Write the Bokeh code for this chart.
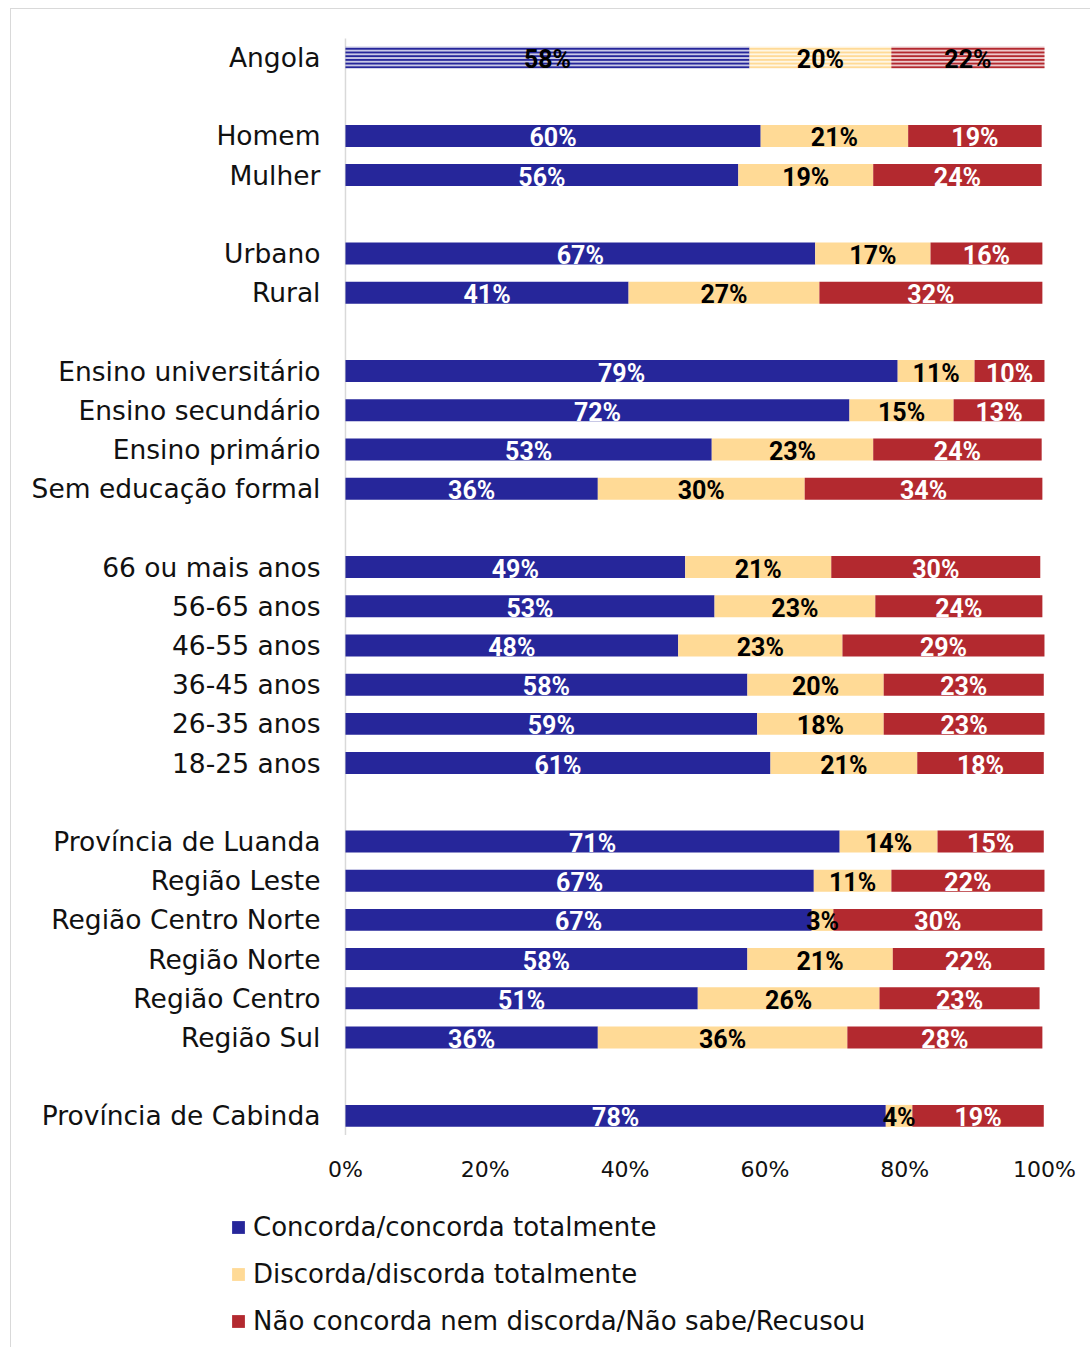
import numpy as np
from bokeh.plotting import figure
from bokeh.models import ColumnDataSource, Range1d, Legend, LegendItem
from bokeh.core.properties import value
from bokeh.embed import file_html
from bokeh.resources import INLINE

# ---------------- data ----------------
categories = ["Angola", "Homem", "Mulher", "Urbano", "Rural",
              "Ensino universitário", "Ensino secundário", "Ensino primário", "Sem educação formal",
              "66 ou mais anos", "56-65 anos", "46-55 anos", "36-45 anos", "26-35 anos", "18-25 anos",
              "Província de Luanda", "Região Leste", "Região Centro Norte", "Região Norte",
              "Região Centro", "Região Sul", "Província de Cabinda"]
group_sizes = [1, 2, 2, 4, 6, 6, 1]

concorda = [57.8, 59.4, 56.2, 67.2, 40.5, 79.0, 72.1, 52.4, 36.1, 48.6, 52.8, 47.6, 57.5, 58.9,
            60.8, 70.7, 67.0, 66.7, 57.5, 50.4, 36.1, 77.3]
discorda = [20.3, 21.1, 19.3, 16.5, 27.3, 11.0, 14.9, 23.1, 29.6, 20.9, 23.0, 23.5, 19.5, 18.1,
            21.0, 14.0, 11.1, 3.1, 20.8, 26.0, 35.7, 3.8]
nao_sabe = [21.9, 19.1, 24.1, 16.0, 31.9, 10.0, 13.0, 24.1, 34.0, 29.9, 23.9, 28.9, 22.9, 23.0,
            18.1, 15.2, 21.9, 29.9, 21.7, 22.9, 27.9, 18.8]

lab_concorda = ["58%", "60%", "56%", "67%", "41%", "79%", "72%", "53%", "36%", "49%", "53%", "48%",
                "58%", "59%", "61%", "71%", "67%", "67%", "58%", "51%", "36%", "78%"]
lab_discorda = ["20%", "21%", "19%", "17%", "27%", "11%", "15%", "23%", "30%", "21%", "23%", "23%",
                "20%", "18%", "21%", "14%", "11%", "3%", "21%", "26%", "36%", "4%"]
lab_nao_sabe = ["22%", "19%", "24%", "16%", "32%", "10%", "13%", "24%", "34%", "30%", "24%", "29%",
                "23%", "23%", "18%", "15%", "22%", "30%", "22%", "23%", "28%", "19%"]

series_names = ["Concorda/concorda totalmente", "Discorda/discorda totalmente",
                "Não concorda nem discorda/Não sabe/Recusou"]
x_ticks = [0, 20, 40, 60, 80, 100]
x_tick_labels = ["0%", "20%", "40%", "60%", "80%", "100%"]

colors = ["#26269A", "#FFDA96", "#B3292F"]
FONT = "DejaVu Sans"
LABEL_FONT = "Roboto"

# row positions (one empty row between groups)
ypos = []
pos = 0
for n in group_sizes:
    for k in range(n):
        ypos.append(pos)
        pos += 1
    pos += 1
ypos = np.array(ypos, dtype=float)

c = np.array(concorda); d = np.array(discorda); n_ = np.array(nao_sabe)
lefts = [np.zeros_like(c), c, c + d]
rights = [c, c + d, c + d + n_]
labs = [lab_concorda, lab_discorda, lab_nao_sabe]

W, H = 1084, 1343
p = figure(width=W, height=H, output_backend="svg", toolbar_location=None,
           x_axis_type=None, y_axis_type=None,
           x_range=Range1d(-47.78, 107.30), y_range=Range1d(33.036, -1.2245),
           min_border=0)
p.margin = (8, 0, 0, 10)
p.styles = {"border": "1px solid #d9d9d9"}
p.outline_line_color = None
p.background_fill_color = "white"

# vertical category axis line
p.segment(x0=[0], y0=[ypos.min() - 0.485], x1=[0], y1=[ypos.max() + 0.485],
          line_color="#d9d9d9", line_width=1.5)

main_renderers = []
for s in range(3):
    src_main = ColumnDataSource(dict(y=ypos[1:], left=lefts[s][1:], right=rights[s][1:]))
    r = p.hbar(y="y", left="left", right="right", height=0.56, source=src_main,
               fill_color=colors[s], line_color=None)
    main_renderers.append(r)
    src_ang = ColumnDataSource(dict(y=ypos[:1], left=lefts[s][:1], right=rights[s][:1]))
    p.hbar(y="y", left="left", right="right", height=0.56, source=src_ang,
           fill_color=colors[s], fill_alpha=0.25, line_color=None,
           hatch_pattern="horizontal_line", hatch_color=colors[s], hatch_scale=3.7, hatch_weight=2)

# data labels
for s in range(3):
    txt_colors = ["black" if (s == 1 or i == 0) else "white" for i in range(len(categories))]
    src = ColumnDataSource(dict(x=(lefts[s] + rights[s]) / 2, y=ypos, t=labs[s], col=txt_colors))
    p.text(x="x", y="y", text="t", source=src, text_color="col",
           text_align="center", text_baseline="middle", y_offset=2,
           text_font=value(LABEL_FONT), text_font_style="bold", text_font_size="25px")

# category labels
cat_src = ColumnDataSource(dict(x=np.zeros(len(categories)), y=ypos, t=categories))
p.text(x="x", y="y", text="t", source=cat_src, x_offset=-25,
       text_align="right", text_baseline="middle", text_color="#111111",
       text_font=value(FONT), text_font_size="26.5px")

# x tick labels
tick_src = ColumnDataSource(dict(x=x_ticks, y=[ypos.max() + 1.36] * len(x_ticks), t=x_tick_labels))
p.text(x="x", y="y", text="t", source=tick_src,
       text_align="center", text_baseline="middle", text_color="#111111",
       text_font=value(FONT), text_font_size="22px")

legend = Legend(items=[LegendItem(label=series_names[i], renderers=[main_renderers[i]]) for i in range(3)],
                location=(219, 16), orientation="vertical",
                glyph_width=16, glyph_height=16, label_height=24, spacing=17,
                label_standoff=7, padding=0, margin=0,
                border_line_color=None, background_fill_alpha=0,
                label_text_font=FONT, label_text_font_size="26px", label_text_color="#111111")
p.add_layout(legend, "center")

open("out.html", "w").write(file_html(p, INLINE))
